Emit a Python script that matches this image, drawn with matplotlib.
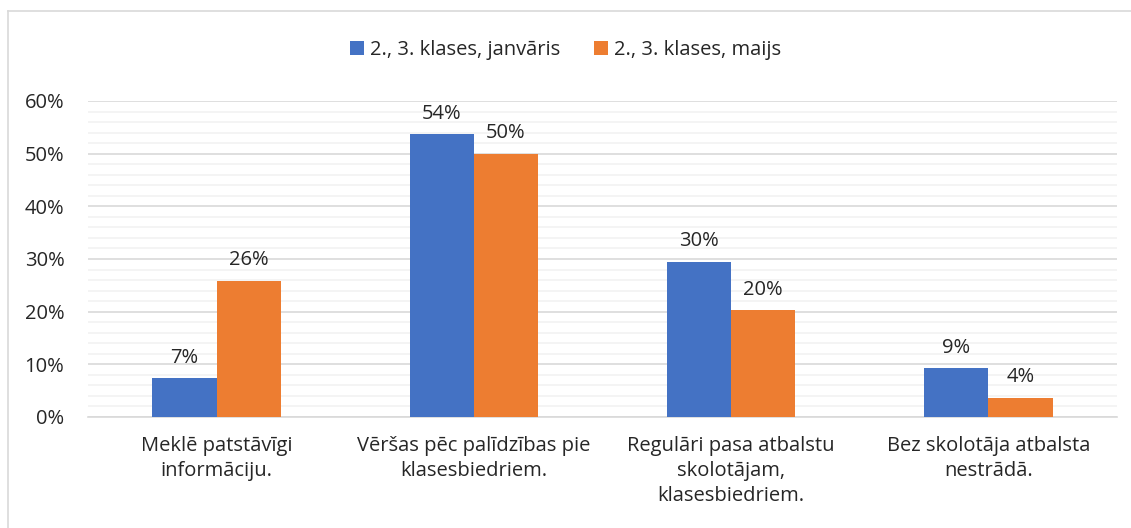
import numpy as np
import matplotlib.pyplot as plt
from matplotlib.ticker import MultipleLocator, PercentFormatter

plt.rcParams['font.family'] = ['Open Sans', 'DejaVu Sans']

categories = ['Meklē patstāvīgi\ninformāciju.',
              'Vēršas pēc palīdzības pie\nklasesbiedriem.',
              'Regulāri pasa atbalstu\nskolotājam,\nklasesbiedriem.',
              'Bez skolotāja atbalsta\nnestrādā.']
series_names = ['2., 3. klases, janvāris', '2., 3. klases, maijs']
janvaris = [7.4, 53.7, 29.5, 9.3]
maijs = [25.9, 50.0, 20.3, 3.7]

colors = ['#4472c4', '#ed7d31']
txt = '#262626'
fs = 14.5

fig = plt.figure(figsize=(11.31, 5.28), dpi=100)
ax = fig.add_axes([88 / 1131, 1 - 417 / 528, (1117 - 88) / 1131, (417 - 101) / 528])

x = np.arange(len(categories))
w = 0.25
for i, (vals, name) in enumerate(zip([janvaris, maijs], series_names)):
    bars = ax.bar(x + (i - 0.5) * w, vals, width=w, color=colors[i], label=name, zorder=3)
    for b, v in zip(bars, vals):
        ax.annotate(f'{round(v):.0f}%', (b.get_x() + b.get_width() / 2, v),
                    xytext=(0, 7.5), textcoords='offset points',
                    ha='center', va='bottom', fontsize=fs, color=txt)

ax.set_xlim(-0.5, len(categories) - 0.5)
ax.set_ylim(0, 60)
ax.yaxis.set_major_locator(MultipleLocator(10))
ax.yaxis.set_minor_locator(MultipleLocator(2))
ax.yaxis.set_major_formatter(PercentFormatter(decimals=0))
ax.grid(axis='y', which='major', color='#d9d9d9', linewidth=1.2, zorder=0)
ax.grid(axis='y', which='minor', color='#f2f2f2', linewidth=1.2, zorder=0)
ax.set_xticks(x)
ax.set_xticklabels(categories, fontsize=fs, color=txt, linespacing=1.32)
ax.tick_params(axis='both', which='both', length=0, labelsize=fs, colors=txt)
ax.tick_params(axis='x', pad=14)
ax.tick_params(axis='y', pad=17)
for side in ['top', 'right', 'left']:
    ax.spines[side].set_visible(False)
ax.spines['bottom'].set_color('#d9d9d9')
ax.spines['bottom'].set_linewidth(1.2)

fig.legend(loc='center', bbox_to_anchor=(0.5, 1 - 50 / 528), ncol=2, frameon=False,
           fontsize=fs, handlelength=0.7, handleheight=0.7, handletextpad=0.3,
           columnspacing=1.7, labelcolor=txt)

# light border of the chart box
fig.add_artist(plt.Line2D([8 / 1131, 8 / 1131], [0, 1 - 11 / 528], color='#d9d9d9', lw=1.2))
fig.add_artist(plt.Line2D([8 / 1131, 1], [1 - 11 / 528, 1 - 11 / 528], color='#d9d9d9', lw=1.2))

fig.savefig('out.png', dpi=100)
